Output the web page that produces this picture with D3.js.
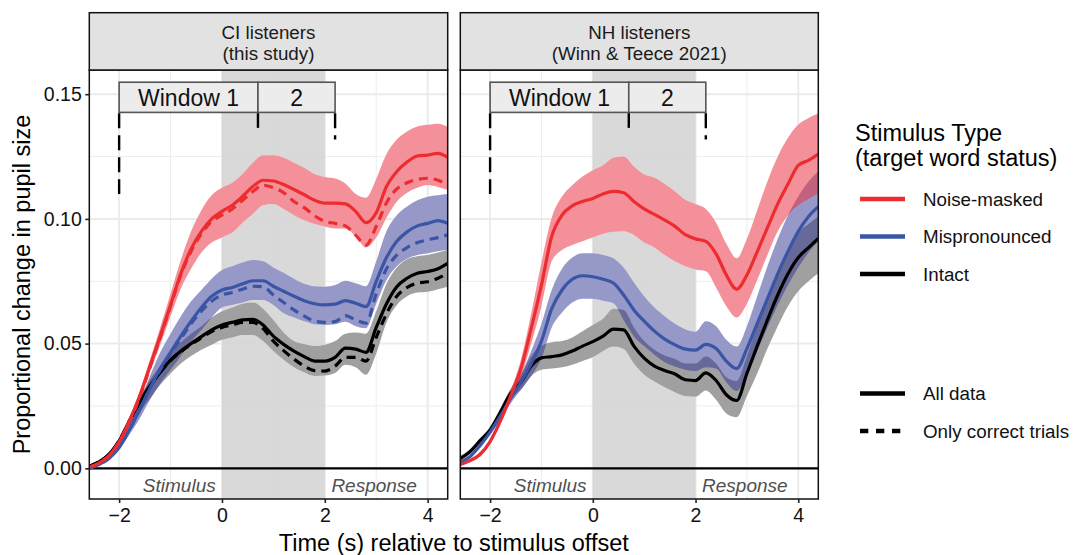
<!DOCTYPE html>
<html><head><meta charset="utf-8">
<script src="https://cdn.jsdelivr.net/npm/d3@7"></script>
<style>
body{margin:0;background:#fff;}
svg text{font-family:"Liberation Sans",Arial,Helvetica,sans-serif;}
</style>
</head><body>
<svg id="chart" width="1073" height="555"></svg>
<script>
// ---------------- DATA ----------------
const time = [-2.58,-2.4,-2.2,-2.0,-1.8,-1.6,-1.4,-1.2,-1.0,-0.8,-0.6,-0.4,-0.2,0,0.2,0.4,0.6,0.8,1.0,1.2,1.4,1.6,1.8,2.0,2.2,2.4,2.6,2.8,3.0,3.2,3.4,3.6,3.8,4.0,4.2,4.39];
const stimulusTypes = ["Noise-masked","Mispronounced","Intact"];
const panelTitles = [["CI listeners","(this study)"],["NH listeners","(Winn & Teece 2021)"]];
const xTicks = [-2,0,2,4];
const yTicks = [0,0.05,0.10,0.15];
const windowBreaks = [-2,0.7,2.2];
const windowLabels = ["Window 1","2"];
const phaseLabels = ["Stimulus","Response"];
const phaseLabelTimes = [-0.83,2.96];
const analysisBand = [0,2];

// CI listeners
const ciNoiseAll = [0.0005,0.002,0.005,0.0105,0.019,0.029,0.041,0.053,0.0655,0.078,0.088,0.095,0.100,0.103,0.1055,0.109,0.113,0.1155,0.1152,0.1138,0.1118,0.1097,0.1075,0.1063,0.1063,0.106,0.103,0.0985,0.1025,0.113,0.119,0.1228,0.1252,0.1256,0.1263,0.1247];
const ciNoiseCorrect = [0.0005,0.002,0.005,0.0105,0.0185,0.0285,0.0405,0.0525,0.065,0.0775,0.087,0.094,0.099,0.1015,0.104,0.1075,0.111,0.1135,0.1125,0.1105,0.107,0.1045,0.1013,0.099,0.0982,0.0972,0.0935,0.0895,0.097,0.1065,0.112,0.1145,0.1158,0.1163,0.1155,0.1136];
const ciNoiseHi = [0.001,0.0025,0.006,0.012,0.0205,0.031,0.0435,0.0565,0.070,0.0835,0.095,0.1035,0.1095,0.1125,0.1145,0.118,0.1225,0.1255,0.1255,0.1245,0.1225,0.1205,0.118,0.1168,0.1162,0.1142,0.110,0.1085,0.116,0.126,0.1318,0.135,0.137,0.1377,0.1382,0.137];
const ciNoiseLo = [0,0.0015,0.0045,0.009,0.017,0.027,0.0385,0.0495,0.061,0.072,0.080,0.0865,0.0905,0.0925,0.0945,0.0985,0.102,0.1055,0.106,0.104,0.1015,0.0995,0.098,0.097,0.0962,0.0962,0.093,0.0885,0.0925,0.1005,0.107,0.1105,0.1125,0.1136,0.1128,0.1116];

const ciMispAll = [0,0.0015,0.004,0.0085,0.0155,0.0235,0.032,0.040,0.0465,0.053,0.059,0.0645,0.069,0.0715,0.0725,0.074,0.0752,0.0752,0.073,0.071,0.069,0.0672,0.066,0.0655,0.0658,0.0672,0.0662,0.0648,0.075,0.0845,0.091,0.0948,0.0972,0.0982,0.0993,0.0982];
const ciMispCorrect = [0,0.0015,0.004,0.0085,0.0155,0.0235,0.032,0.0395,0.046,0.052,0.058,0.063,0.067,0.0695,0.0705,0.0718,0.073,0.0728,0.0695,0.0665,0.0635,0.061,0.059,0.0585,0.0588,0.0612,0.0595,0.0582,0.070,0.080,0.0855,0.0885,0.0905,0.0916,0.0925,0.0936];
const ciMispHi = [0.0005,0.002,0.005,0.0095,0.017,0.0265,0.037,0.0465,0.054,0.061,0.067,0.0715,0.076,0.0795,0.081,0.0825,0.0835,0.083,0.0805,0.0784,0.076,0.074,0.073,0.0728,0.0735,0.0752,0.0742,0.073,0.083,0.095,0.1015,0.105,0.1075,0.1089,0.1095,0.110];
const ciMispLo = [0,0.001,0.003,0.0072,0.0135,0.020,0.0275,0.034,0.0395,0.045,0.051,0.0555,0.0605,0.0645,0.0655,0.0665,0.0675,0.0675,0.0655,0.0622,0.0605,0.059,0.0578,0.0575,0.0578,0.0588,0.057,0.0562,0.066,0.0755,0.081,0.084,0.0855,0.0862,0.087,0.0875];

const ciIntactAll = [0.0008,0.0025,0.0055,0.011,0.019,0.0265,0.033,0.0385,0.0435,0.047,0.050,0.0528,0.0555,0.0575,0.0585,0.0595,0.0597,0.0575,0.053,0.0497,0.047,0.0448,0.043,0.043,0.0445,0.0482,0.0478,0.0465,0.0565,0.066,0.0728,0.0762,0.0782,0.0789,0.080,0.0822];
const ciIntactCorrect = [0.0008,0.0025,0.0055,0.011,0.019,0.0265,0.033,0.0385,0.0432,0.0467,0.0497,0.0523,0.0548,0.0565,0.0575,0.0585,0.0585,0.056,0.051,0.0472,0.0438,0.041,0.0392,0.039,0.041,0.0445,0.0445,0.043,0.0525,0.062,0.069,0.0725,0.0743,0.0748,0.0762,0.0782];
const ciIntactHi = [0.0012,0.003,0.0065,0.012,0.0205,0.0285,0.0355,0.041,0.0465,0.0505,0.054,0.057,0.0605,0.063,0.0645,0.066,0.0665,0.064,0.0595,0.0545,0.051,0.0498,0.049,0.0495,0.051,0.054,0.0545,0.054,0.063,0.074,0.0805,0.0838,0.085,0.0855,0.0865,0.0875];
const ciIntactLo = [0.0004,0.002,0.0045,0.0095,0.0165,0.0225,0.028,0.0335,0.038,0.042,0.045,0.0475,0.0495,0.0515,0.0525,0.0535,0.0535,0.051,0.047,0.0435,0.0405,0.0385,0.037,0.0372,0.0382,0.0415,0.0405,0.0375,0.046,0.0585,0.0655,0.069,0.0705,0.0708,0.0718,0.0728];

// NH listeners
const nhNoiseAll = [0.0015,0.003,0.0055,0.0107,0.019,0.029,0.040,0.056,0.0735,0.093,0.1015,0.1052,0.107,0.1082,0.11,0.111,0.1105,0.107,0.104,0.1018,0.0995,0.097,0.0937,0.092,0.091,0.086,0.0775,0.0718,0.0775,0.0868,0.0965,0.106,0.114,0.1215,0.1235,0.126];
const nhNoiseHi = [0.002,0.0035,0.0065,0.0115,0.0205,0.031,0.0435,0.062,0.0825,0.1005,0.109,0.1135,0.117,0.1195,0.1215,0.1245,0.125,0.121,0.1178,0.1165,0.114,0.111,0.1077,0.106,0.104,0.0985,0.09,0.0842,0.092,0.1035,0.115,0.125,0.1325,0.1378,0.1405,0.1423];
const nhNoiseLo = [0.001,0.0025,0.0045,0.0098,0.0175,0.027,0.0365,0.050,0.065,0.083,0.0875,0.0895,0.091,0.0925,0.094,0.0948,0.095,0.0935,0.0905,0.0885,0.0855,0.083,0.081,0.0797,0.079,0.0725,0.065,0.0605,0.066,0.0755,0.0855,0.095,0.1015,0.1055,0.108,0.1103];

const nhMispAll = [0.0025,0.0045,0.009,0.0145,0.021,0.028,0.0345,0.042,0.051,0.064,0.0715,0.0758,0.0772,0.0768,0.0758,0.0743,0.0695,0.0635,0.059,0.055,0.0518,0.0495,0.0478,0.0474,0.0497,0.048,0.043,0.040,0.048,0.058,0.068,0.078,0.087,0.095,0.101,0.1049];
const nhMispHi = [0.003,0.005,0.0095,0.0155,0.0225,0.030,0.0375,0.047,0.058,0.0715,0.080,0.0845,0.0862,0.0862,0.0855,0.0842,0.0805,0.0745,0.069,0.0645,0.061,0.058,0.0558,0.0548,0.059,0.057,0.0515,0.0488,0.057,0.069,0.081,0.092,0.1015,0.109,0.115,0.119];
const nhMispLo = [0.002,0.004,0.0085,0.0135,0.0195,0.026,0.0315,0.037,0.044,0.0565,0.0625,0.0665,0.068,0.068,0.0672,0.0662,0.0595,0.053,0.049,0.0455,0.0425,0.0408,0.0395,0.039,0.0405,0.040,0.0345,0.031,0.038,0.047,0.0565,0.0655,0.0735,0.0805,0.0865,0.091];

const nhIntactAll = [0.004,0.0065,0.011,0.0154,0.0225,0.030,0.0345,0.041,0.0443,0.0448,0.0455,0.047,0.049,0.0508,0.053,0.0558,0.0555,0.049,0.0442,0.041,0.0392,0.0378,0.0355,0.0352,0.0383,0.0352,0.0295,0.0272,0.038,0.049,0.0595,0.0695,0.078,0.0845,0.0885,0.0922];
const nhIntactHi = [0.005,0.0075,0.012,0.0165,0.024,0.032,0.0375,0.045,0.049,0.0505,0.051,0.0525,0.055,0.0575,0.060,0.064,0.0635,0.0565,0.051,0.0475,0.0452,0.0438,0.042,0.042,0.0448,0.042,0.0365,0.035,0.045,0.057,0.0685,0.079,0.088,0.0945,0.098,0.101];
const nhIntactLo = [0.003,0.0055,0.010,0.0143,0.021,0.028,0.0315,0.037,0.0395,0.040,0.0405,0.0415,0.043,0.0445,0.047,0.0488,0.0478,0.042,0.0375,0.0348,0.0325,0.0305,0.029,0.0287,0.0312,0.0275,0.022,0.0205,0.029,0.038,0.048,0.057,0.065,0.071,0.075,0.0782];

// ---------------- STYLE ----------------
const lineColor = {"Noise-masked":"#ec2c2f","Mispronounced":"#3a55a5","Intact":"#000000"};
const ribbonColor = {"Noise-masked":"#ea3446","Mispronounced":"#2d3191","Intact":"#414141"};
const ribbonOpacity = {"Noise-masked":0.55,"Mispronounced":0.5,"Intact":0.5};

const panelData = [
  { title: panelTitles[0], x0: 89.3, x1: 447.7,
    series: [
      {type:"Intact", all:ciIntactAll, correct:ciIntactCorrect, lo:ciIntactLo, hi:ciIntactHi},
      {type:"Mispronounced", all:ciMispAll, correct:ciMispCorrect, lo:ciMispLo, hi:ciMispHi},
      {type:"Noise-masked", all:ciNoiseAll, correct:ciNoiseCorrect, lo:ciNoiseLo, hi:ciNoiseHi}
    ]},
  { title: panelTitles[1], x0: 460.3, x1: 818.3,
    series: [
      {type:"Intact", all:nhIntactAll, lo:nhIntactLo, hi:nhIntactHi},
      {type:"Mispronounced", all:nhMispAll, lo:nhMispLo, hi:nhMispHi},
      {type:"Noise-masked", all:nhNoiseAll, lo:nhNoiseLo, hi:nhNoiseHi}
    ]}
];

const svg = d3.select("#chart");
svg.append("rect").attr("width",1073).attr("height",555).attr("fill","#fff");
const panelTop = 70, panelBottom = 499, stripTop = 12.7;
const y = d3.scaleLinear().domain([-0.0123, 0.1597]).range([panelBottom, panelTop]);
const xDomain = [-2.58, 4.39];

panelData.forEach((p, pi) => {
  const x = d3.scaleLinear().domain(xDomain).range([p.x0, p.x1]);
  const g = svg.append("g");
  const clipId = "clip" + pi;
  svg.append("clipPath").attr("id", clipId).append("rect")
    .attr("x", p.x0).attr("y", panelTop).attr("width", p.x1 - p.x0).attr("height", panelBottom - panelTop);

  g.append("rect").attr("x",p.x0).attr("y",panelTop).attr("width",p.x1-p.x0).attr("height",panelBottom-panelTop).attr("fill","#fff");

  // grid
  const grid = g.append("g").attr("clip-path",`url(#${clipId})`);
  const minorX = [-1,1,3], minorY = [0.025,0.075,0.125];
  grid.selectAll(".mx").data(minorX).join("line")
    .attr("x1",d=>x(d)).attr("x2",d=>x(d)).attr("y1",panelTop).attr("y2",panelBottom)
    .attr("stroke","#ededed").attr("stroke-width",1);
  grid.selectAll(".my").data(minorY).join("line")
    .attr("y1",d=>y(d)).attr("y2",d=>y(d)).attr("x1",p.x0).attr("x2",p.x1)
    .attr("stroke","#ededed").attr("stroke-width",1);
  grid.selectAll(".Mx").data(xTicks).join("line")
    .attr("x1",d=>x(d)).attr("x2",d=>x(d)).attr("y1",panelTop).attr("y2",panelBottom)
    .attr("stroke","#ebebeb").attr("stroke-width",2);
  grid.selectAll(".My").data(yTicks).join("line")
    .attr("y1",d=>y(d)).attr("y2",d=>y(d)).attr("x1",p.x0).attr("x2",p.x1)
    .attr("stroke","#ebebeb").attr("stroke-width",2);

  // analysis band
  g.append("rect").attr("x",x(analysisBand[0])).attr("width",x(analysisBand[1])-x(analysisBand[0]))
    .attr("y",panelTop).attr("height",panelBottom-panelTop)
    .attr("fill","#d4d4d4").attr("fill-opacity",0.88);

  const plot = g.append("g").attr("clip-path",`url(#${clipId})`);
  const area = d3.area().x((d,i)=>x(time[i])).y0(d=>y(d[0])).y1(d=>y(d[1])).curve(d3.curveMonotoneX);
  const line = d3.line().x((d,i)=>x(time[i])).y(d=>y(d)).curve(d3.curveMonotoneX);

  // white knockout under ribbons, then translucent ribbons
  p.series.forEach(s => {
    const band = s.lo.map((v,i)=>[v, s.hi[i]]);
    plot.append("path").attr("d", area(band)).attr("fill", "#fff");
  });
  p.series.forEach(s => {
    const band = s.lo.map((v,i)=>[v, s.hi[i]]);
    plot.append("path").attr("d", area(band))
      .attr("fill", ribbonColor[s.type]).attr("fill-opacity", ribbonOpacity[s.type]);
  });
  plot.append("line").attr("x1",p.x0).attr("x2",p.x1).attr("y1",y(0)).attr("y2",y(0))
    .attr("stroke","#000").attr("stroke-width",2.2);
  p.series.forEach(s => {
    if (s.correct) {
      plot.append("path").attr("d", line(s.correct)).attr("fill","none")
        .attr("stroke", lineColor[s.type]).attr("stroke-width",3.2)
        .attr("stroke-dasharray","9,6");
    }
    plot.append("path").attr("d", line(s.all)).attr("fill","none")
      .attr("stroke", lineColor[s.type]).attr("stroke-width",3.2)
      .attr("stroke-linejoin","round");
  });

  phaseLabels.forEach((lab,i)=>{
    g.append("text").attr("x",x(phaseLabelTimes[i])).attr("y",y(-0.0096))
      .attr("text-anchor","middle").attr("font-size",19).attr("font-style","italic")
      .attr("fill","#505050").text(lab);
  });

  const boxTop = 0.1548, boxBottom = 0.1427;
  for (let i=0;i<2;i++){
    g.append("rect").attr("x",x(windowBreaks[i])).attr("width",x(windowBreaks[i+1])-x(windowBreaks[i]))
      .attr("y",y(boxTop)).attr("height",y(boxBottom)-y(boxTop))
      .attr("fill","#ececec").attr("stroke","#555").attr("stroke-width",1.6);
    g.append("text").attr("x",(x(windowBreaks[i])+x(windowBreaks[i+1]))/2).attr("y",106)
      .attr("text-anchor","middle").attr("font-size",23).attr("fill","#111").text(windowLabels[i]);
  }
  const markerEnds = [0.110, 0.1365, 0.1318];
  windowBreaks.forEach((b,i)=>{
    g.append("line").attr("x1",x(b)).attr("x2",x(b)).attr("y1",y(boxBottom)+0.8).attr("y2",y(markerEnds[i]))
      .attr("stroke","#000").attr("stroke-width",2.4).attr("stroke-dasharray","15,7");
  });

  g.append("rect").attr("x",p.x0).attr("y",panelTop).attr("width",p.x1-p.x0).attr("height",panelBottom-panelTop)
    .attr("fill","none").attr("stroke","#111").attr("stroke-width",1.5);

  g.append("rect").attr("x",p.x0).attr("y",stripTop).attr("width",p.x1-p.x0).attr("height",panelTop-stripTop)
    .attr("fill","#e2e2e2").attr("stroke","#111").attr("stroke-width",1.5);
  p.title.forEach((t,i)=>{
    g.append("text").attr("x",(p.x0+p.x1)/2).attr("y",38.5+i*21)
      .attr("text-anchor","middle").attr("font-size",18.8).attr("fill","#1a1a1a").text(t);
  });

  const xAxis = d3.axisBottom(x).tickValues(xTicks).tickSize(4).tickPadding(5).tickSizeOuter(0)
    .tickFormat(d3.format("d"));
  const xa = svg.append("g").attr("transform",`translate(0,${panelBottom})`).call(xAxis);
  xa.select(".domain").remove();
  xa.selectAll(".tick line").attr("stroke","#222").attr("stroke-width",1.6);
  xa.selectAll(".tick text").attr("font-size",19.5).attr("fill","#111")
    .attr("font-family","'Liberation Sans',Arial,sans-serif");

  if (pi===0){
    const yAxis = d3.axisLeft(y).tickValues(yTicks).tickSize(4).tickPadding(3.5).tickFormat(d3.format(".2f"));
    const ya = svg.append("g").attr("transform",`translate(${p.x0},0)`).call(yAxis);
    ya.select(".domain").remove();
    ya.selectAll(".tick line").attr("stroke","#222").attr("stroke-width",1.6);
    ya.selectAll(".tick text").attr("font-size",19.5).attr("fill","#111")
      .attr("font-family","'Liberation Sans',Arial,sans-serif");
  }
});

svg.append("text").attr("x",453.8).attr("y",551).attr("text-anchor","middle")
  .attr("font-size",23.5).attr("fill","#000").text("Time (s) relative to stimulus offset");
svg.append("text").attr("transform","translate(30,284.5) rotate(-90)").attr("text-anchor","middle")
  .attr("font-size",23.5).attr("fill","#000").text("Proportional change in pupil size");

const lg = svg.append("g");
lg.append("text").attr("x",855).attr("y",141).attr("font-size",23.5).attr("fill","#000").text("Stimulus Type");
lg.append("text").attr("x",855).attr("y",166).attr("font-size",23.5).attr("fill","#000").text("(target word status)");
const legY = [199, 236.5, 274];
stimulusTypes.forEach((s,i)=>{
  lg.append("line").attr("x1",860).attr("x2",905).attr("y1",legY[i]).attr("y2",legY[i])
    .attr("stroke",lineColor[s]).attr("stroke-width",4.5);
  lg.append("text").attr("x",923).attr("y",legY[i]+6.8).attr("font-size",18.8).attr("fill","#111").text(s);
});
const lineTypes = ["All data","Only correct trials"];
const ltY = [393.5, 431];
lineTypes.forEach((s,i)=>{
  lg.append("line").attr("x1",860).attr("x2",905).attr("y1",ltY[i]).attr("y2",ltY[i])
    .attr("stroke","#000").attr("stroke-width",4.5)
    .attr("stroke-dasharray", i===1 ? "8.3,7.7" : null);
  lg.append("text").attr("x",923).attr("y",ltY[i]+6.8).attr("font-size",18.8).attr("fill","#111").text(s);
});
</script>
</body></html>
